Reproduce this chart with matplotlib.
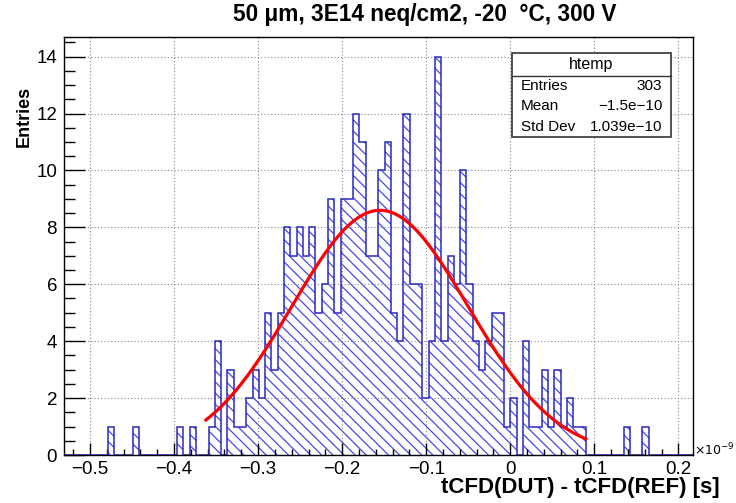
import numpy as np
import matplotlib
matplotlib.use("Agg")
import matplotlib.pyplot as plt
from matplotlib.ticker import MultipleLocator, FuncFormatter

plt.rcParams['font.family'] = ['Liberation Sans', 'DejaVu Sans']
plt.rcParams['hatch.linewidth'] = 0.9

# Histogram of time differences (units of 1e-9 s), 100 equal bins
x_low = -0.5309
x_high = 0.2171
counts = [
    0, 0, 0, 0, 0, 0, 0, 1, 0, 0,
    0, 1, 0, 0, 0, 0, 0, 0, 1, 0,
    1, 0, 0, 1, 4, 0, 3, 1, 1, 2,
    3, 2, 5, 3, 5, 8, 7, 8, 7, 8,
    5, 6, 9, 5, 9, 9, 12, 11, 7, 7,
    10, 11, 5, 4, 12, 6, 6, 2, 4, 14,
    4, 7, 6, 10, 6, 4, 3, 4, 5, 5,
    1, 2, 0, 4, 1, 1, 3, 1, 3, 1,
    2, 1, 1, 0, 0, 0, 0, 0, 0, 1,
    0, 0, 1, 0, 0, 0, 0, 0, 0, 0,
]

# Gaussian fit result and fit range
fit_amp = 8.6
fit_mean = -0.155
fit_sigma = 0.105
fit_range = (-0.362, 0.090)

# Statistics box content
stats_title = "htemp"
stats_rows = [("Entries", "303"), ("Mean", "\u22121.5e\u221210"), ("Std Dev", "1.039e\u221210")]

title = "50 \u03bcm, 3E14 neq/cm2, -20  \u00b0C, 300 V"
x_title = "tCFD(DUT) - tCFD(REF) [s]"
y_title = "Entries"

W, H = 736, 503
fig = plt.figure(figsize=(W / 100, H / 100), dpi=100)
ax_l, ax_r, ax_t, ax_b = 64, 692.7, 36.7, 455
ax = fig.add_axes([ax_l / W, 1 - ax_b / H, (ax_r - ax_l) / W, (ax_b - ax_t) / H])

edges = np.linspace(x_low, x_high, len(counts) + 1)
vals = np.array(counts, dtype=float)

# hatched fill
ax.stairs(vals, edges, fill=True, facecolor='none', edgecolor='#4848e8',
          hatch='\\\\\\', linewidth=0, zorder=2)
# outline
ax.stairs(vals, edges, fill=False, color='#2a2abf', linewidth=1.1, zorder=3)

# fitted Gaussian
xf = np.linspace(fit_range[0], fit_range[1], 100)
yf = fit_amp * np.exp(-0.5 * ((xf - fit_mean) / fit_sigma) ** 2)
ax.plot(xf, yf, color='#ff0000', linewidth=2.3, zorder=4)

ax.set_xlim(x_low, x_high)
ax.set_ylim(0, 14.7)

ax.xaxis.set_major_locator(MultipleLocator(0.1))
ax.xaxis.set_minor_locator(MultipleLocator(0.02))
ax.yaxis.set_major_locator(MultipleLocator(2))
ax.yaxis.set_minor_locator(MultipleLocator(0.5))


def fmt_x(v, pos):
    if abs(v) < 1e-9:
        return "0"
    return f"{v:.1f}".replace("-", "\u2212")


ax.xaxis.set_major_formatter(FuncFormatter(fmt_x))
ax.yaxis.set_major_formatter(FuncFormatter(lambda v, p: f"{v:.0f}"))

ax.tick_params(axis='x', which='major', direction='in', length=8.6, width=1.0,
               labelsize=13.5, pad=4, top=False)
ax.tick_params(axis='x', which='minor', direction='in', length=4.5, width=1.0, top=False)
ax.tick_params(axis='y', which='major', direction='in', length=15, width=1.0,
               labelsize=13.5, pad=5, right=False)
ax.tick_params(axis='y', which='minor', direction='in', length=8, width=1.0, right=False)

ax.grid(True, which='major', color='#888888', linestyle=(0, (1, 2)), linewidth=0.8)
ax.set_axisbelow(False)
for s in ax.spines.values():
    s.set_linewidth(1.0)
    s.set_color('black')
    s.set_zorder(5)

# titles
fig.text(425 / W, 1 - 15 / H, title, ha='center', va='center', fontsize=16.3, fontweight='bold')
fig.text(720 / W, 1 - 487 / H, x_title, ha='right', va='center', fontsize=16, fontweight='bold')
fig.text(24 / W, 1 - 86 / H, y_title, ha='center', va='top', rotation=90, fontsize=13,
         fontweight='bold')
fig.text(694 / W, 1 - 450 / H, r'$\times10^{-9}$', ha='left', va='center', fontsize=9)

# statistics box
bx_l, bx_r, bx_t, bx_b = 511.7, 670.7, 53.3, 136.7
box = plt.Rectangle((bx_l / W, 1 - bx_b / H), (bx_r - bx_l) / W, (bx_b - bx_t) / H,
                    transform=fig.transFigure, facecolor='white', edgecolor='#333333',
                    linewidth=1.2, zorder=10)
fig.add_artist(box)
fig.add_artist(plt.Line2D([bx_l / W, bx_r / W], [1 - 76 / H, 1 - 76 / H],
                          transform=fig.transFigure, color='#333333', linewidth=1.0, zorder=11))
fig.text(590.7 / W, 1 - 64 / H, stats_title, ha='center', va='center', fontsize=11.5, zorder=12)
row_y = [86, 106, 127]
for (lab, val), yy in zip(stats_rows, row_y):
    fig.text(520.7 / W, 1 - yy / H, lab, ha='left', va='center', fontsize=11, zorder=12)
    fig.text(662.3 / W, 1 - yy / H, val, ha='right', va='center', fontsize=11, zorder=12)

fig.savefig("out.png", dpi=100)
